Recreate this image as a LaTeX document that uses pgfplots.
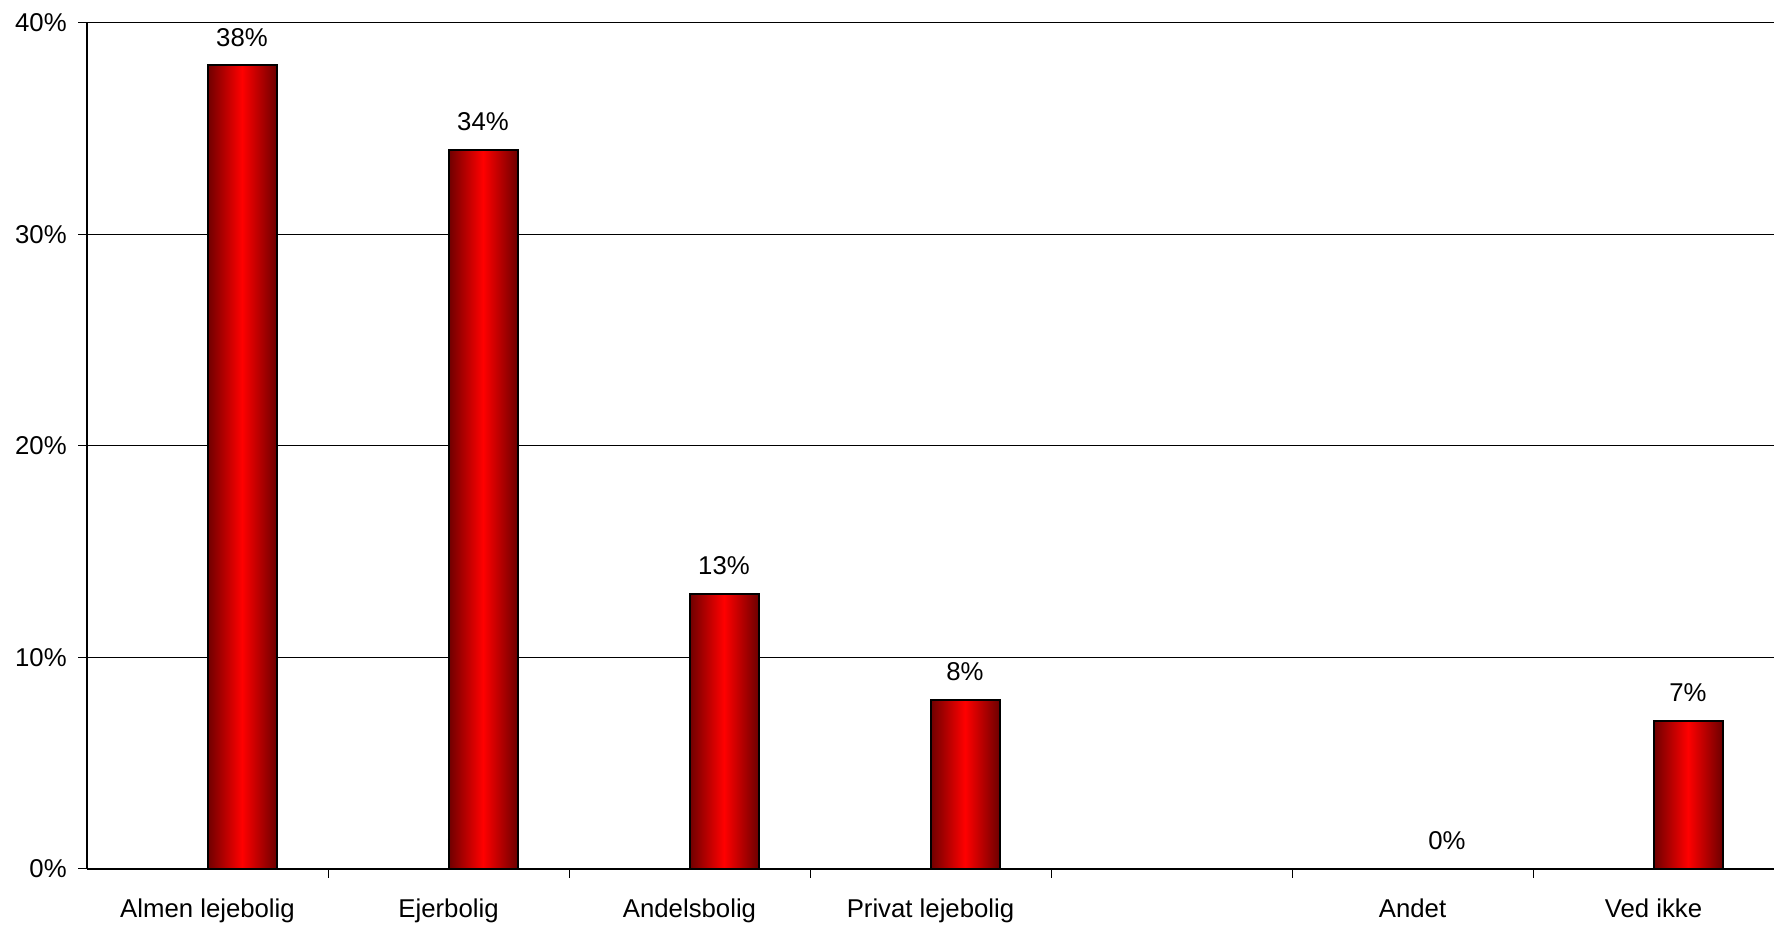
\documentclass[border=0pt]{standalone}
\usepackage{fontspec}
\setmainfont{Liberation Sans}
\usepackage{pgfplots}
\pgfplotsset{compat=1.18}
\usetikzlibrary{calc}
\definecolor{darkred}{RGB}{110,0,0}
\pgfplotsset{redbar/.style={draw=black, line width=0.8pt,
  left color=darkred, right color=darkred, middle color=red}}
\begin{document}
\begin{tikzpicture}
\begin{axis}[
  name=ax,
  scale only axis,
  width=674.8pt, height=338.4pt,
  xmin=-0.5, xmax=6.5,
  ymin=0, ymax=40,
  axis lines=left,
  axis line style={line width=0.6pt, -},
  ytick={0,10,20,30,40},
  yticklabels={0\%,10\%,20\%,30\%,40\%},
  xtick={0,1,2,3,4,5,6},
  xticklabels={Almen lejebolig,Ejerbolig,Andelsbolig,Privat lejebolig,,Andet,Ved ikke},
  minor xtick={0.5,1.5,2.5,3.5,4.5,5.5},
  major x tick style={draw=none},
  minor tick length=3.6pt,
  major tick length=3.6pt,
  tick align=outside,
  tick style={black, line width=0.4pt},
  ymajorgrids,
  grid style={black, line width=0.4pt},
  /pgf/number format/assume math mode=true,
  font=\fontsize{10.3}{12}\selectfont,
  ticklabel style={font=\fontsize{10.3}{12}\selectfont},
  xticklabel style={yshift=-5pt},
  yticklabel style={xshift=-1pt},
  ybar, bar width=27.6pt, bar shift=13.8pt,
  nodes near coords={\pgfmathprintnumber{\pgfplotspointmeta}\%},
  nodes near coords style={anchor=center, yshift=11.2pt, text=black, font=\fontsize{10.3}{12}\selectfont},
  clip=false,
]
\addplot[redbar] coordinates {(0,38)};
\addplot[redbar] coordinates {(1,34)};
\addplot[redbar] coordinates {(2,13)};
\addplot[redbar] coordinates {(3,8)};
\addplot[redbar] coordinates {(5,0)};
\addplot[redbar] coordinates {(6,7)};
\end{axis}
\pgfresetboundingbox
\path ($(ax.south west)+(-34.8pt,-22.4pt)$) rectangle ($(ax.north east)+(0,9.2pt)$);
\end{tikzpicture}
\end{document}
